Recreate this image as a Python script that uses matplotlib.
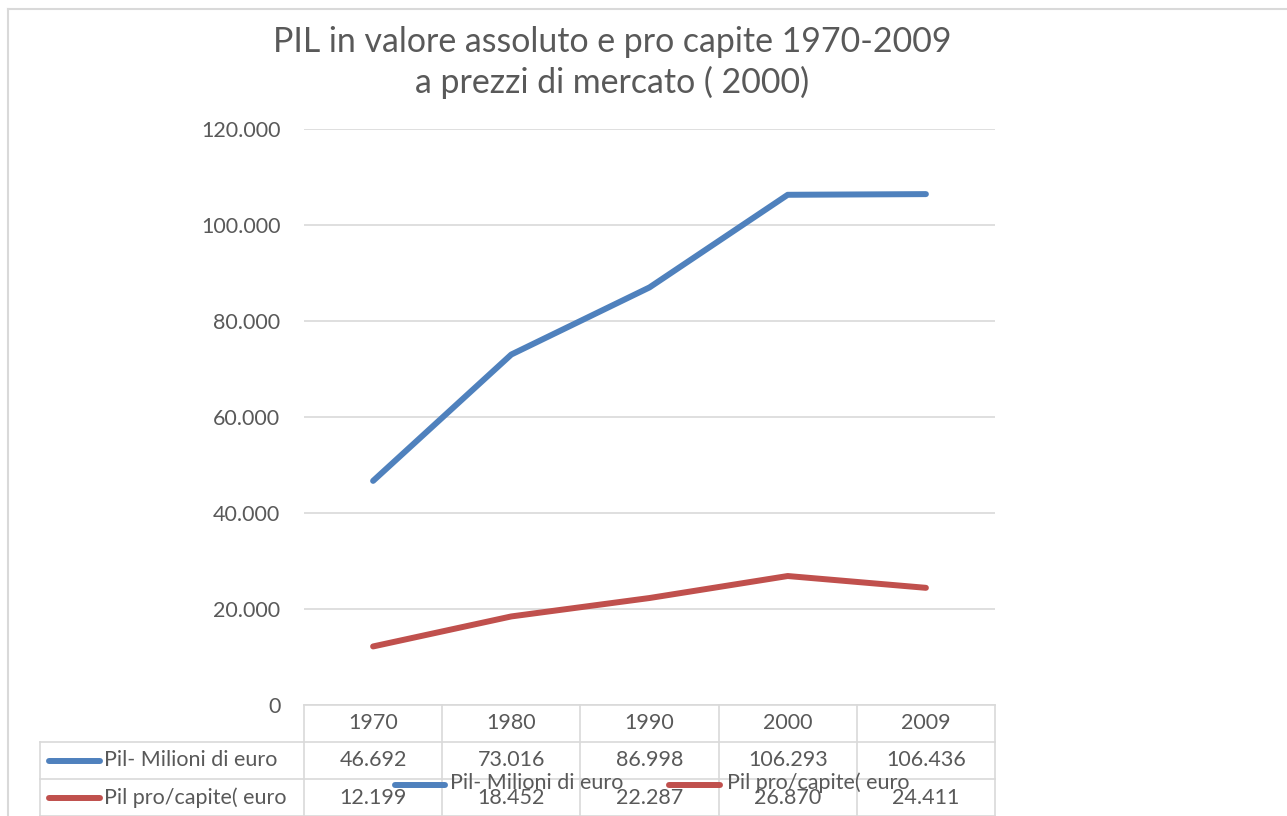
import matplotlib
matplotlib.use("Agg")
import matplotlib.pyplot as plt
from matplotlib.lines import Line2D

plt.rcParams["font.family"] = ["Lato", "DejaVu Sans"]

years = ["1970", "1980", "1990", "2000", "2009"]
pil_milioni = [46692, 73016, 86998, 106293, 106436]
pil_procapite = [12199, 18452, 22287, 26870, 24411]
series_names = ["Pil- Milioni di euro", "Pil pro/capite( euro"]
series_colors = ["#4F81BD", "#C0504D"]

W, H = 1287, 816
TXT = "#595959"
GRID = "#D9D9D9"
FS = 15.5


def fx(x):
    return x / W


def fy(y):
    return 1 - y / H


def it_num(v):
    return "{:,}".format(v).replace(",", ".")


fig = plt.figure(figsize=(W / 100, H / 100), dpi=100)

# chart border
for xs, ys in [((8, 1287), (9, 9)), ((8, 8), (9, 816))]:
    fig.add_artist(Line2D([fx(v) for v in xs], [fy(v) for v in ys], color=GRID, lw=1.5))

L, R, T, B = 304, 995, 129, 705
ax = fig.add_axes([fx(L), fy(B), fx(R) - fx(L), fy(T) - fy(B)])
x = list(range(len(years)))
for vals, col in zip([pil_milioni, pil_procapite], series_colors):
    ax.plot(x, vals, color=col, lw=4.3, solid_capstyle="round")
ax.set_xlim(-0.5, len(years) - 0.5)
ax.set_ylim(0, 120000)
ax.set_yticks(range(0, 120001, 20000))
ax.set_yticklabels([it_num(v) for v in range(0, 120001, 20000)], color=TXT, fontsize=FS)
ax.tick_params(axis="y", length=0, pad=17)
ax.set_xticks([])
ax.grid(axis="y", color=GRID, lw=1.2)
ax.set_axisbelow(True)
for s in ax.spines.values():
    s.set_visible(False)

fig.text(fx(612), fy(42), "PIL in valore assoluto e pro capite 1970-2009", ha="center", va="center",
         fontsize=24.4, color=TXT)
fig.text(fx(612), fy(82), "a prezzi di mercato ( 2000)", ha="center", va="center",
         fontsize=24.4, color=TXT)

# data table
col_w = (R - L) / len(years)
rows = [705, 742, 779, 816]
fig.add_artist(Line2D([fx(L), fx(R)], [fy(705)] * 2, color=GRID, lw=1.2))
for yy in rows[1:]:
    fig.add_artist(Line2D([fx(40), fx(R)], [fy(yy)] * 2, color=GRID, lw=1.2))
for i in range(len(years) + 1):
    xx = L + i * col_w
    fig.add_artist(Line2D([fx(xx)] * 2, [fy(705), fy(816)], color=GRID, lw=1.2))
fig.add_artist(Line2D([fx(40)] * 2, [fy(742), fy(816)], color=GRID, lw=1.2))

for i, yr in enumerate(years):
    fig.text(fx(L + (i + 0.5) * col_w), fy(723), yr, ha="center", va="center", fontsize=FS, color=TXT)
for r, (vals, name, col) in enumerate(zip([pil_milioni, pil_procapite], series_names, series_colors)):
    yc = (rows[r + 1] + rows[r + 2]) / 2
    fig.add_artist(Line2D([fx(49), fx(100)], [fy(yc)] * 2, color=col, lw=4.3, solid_capstyle="round"))
    fig.text(fx(104), fy(yc), name, ha="left", va="center", fontsize=FS, color=TXT)
    for i, v in enumerate(vals):
        fig.text(fx(L + (i + 0.5) * col_w), fy(yc), it_num(v), ha="center", va="center",
                 fontsize=FS, color=TXT)

# legend (overlapping the table, as in the original)
for (x0, x1, xt), name, col in zip([(395, 445, 450), (669, 720, 727)], series_names, series_colors):
    fig.add_artist(Line2D([fx(x0), fx(x1)], [fy(785)] * 2, color=col, lw=4.3, solid_capstyle="round"))
    fig.text(fx(xt), fy(783), name, ha="left", va="center", fontsize=FS, color=TXT)

fig.savefig("out.png", dpi=100)
